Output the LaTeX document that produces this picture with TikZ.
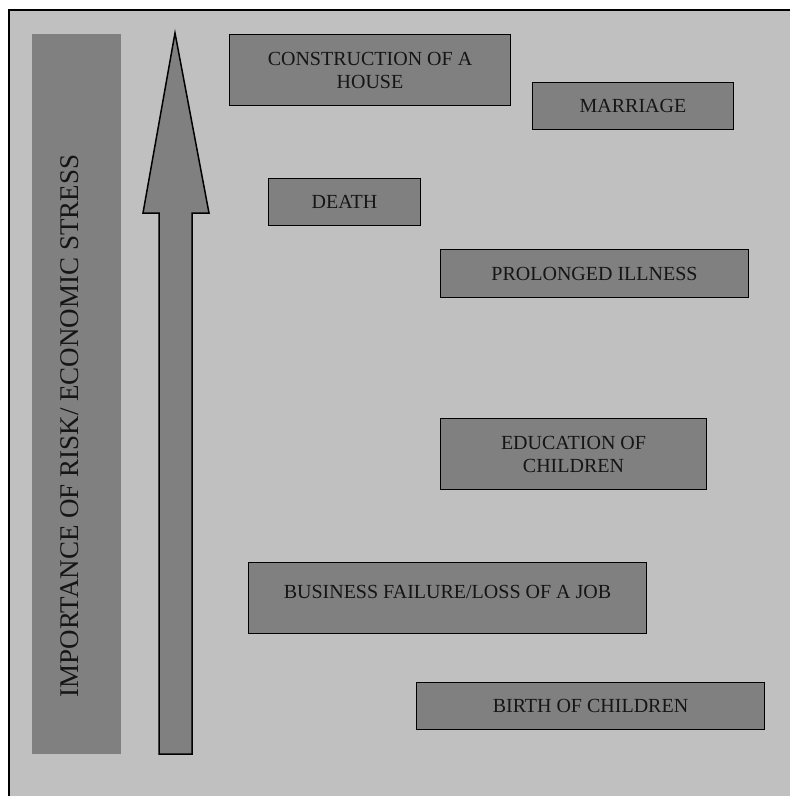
\documentclass[tikz,border=0pt]{standalone}
\usepackage{fontspec}
\setmainfont{Liberation Serif}
\usepackage{xcolor}
\definecolor{bggray}{HTML}{C0C0C0}
\definecolor{boxgray}{HTML}{808080}
\definecolor{inkgray}{HTML}{151515}

\tikzset{
  riskbox/.style={draw=black, fill=boxgray, line width=1.8pt, inner sep=0pt,
    align=center, text=inkgray, font=\fontsize{20}{23}\selectfont}
}

\begin{document}
\begin{tikzpicture}[x=1pt, y=-1pt]
  \useasboundingbox (0,0) rectangle (790,796);
  \clip (0,0) rectangle (790,796);

  % Draw the frame with the grey background
  \draw[fill=bggray, line width=2pt] (9,10) rectangle (805,810);

  % Fill in the side bar and its label
  \node[fill=boxgray, inner sep=0pt, minimum width=89pt, minimum height=720pt] (stressbar) at (76.5,394) {};
  \node[rotate=90, text=inkgray, font=\fontsize{27}{30}\selectfont] (stresslabel) at (70,426) {IMPORTANCE OF RISK/ ECONOMIC STRESS};

  % Draw the big arrow
  \draw[fill=boxgray, line width=1.5pt, line join=miter]
    (159,754) -- (159,213) -- (143,213) -- (175,33) -- (209,213) -- (192,213) -- (192,754) -- cycle;

  % Place the risk boxes
  \node[riskbox, minimum width=281pt, minimum height=71pt] (house) at (370,70) {CONSTRUCTION OF A\\HOUSE};
  \node[riskbox, minimum width=201pt, minimum height=47pt] (marriage) at (633,106) {MARRIAGE};
  \node[riskbox, minimum width=152pt, minimum height=47pt] (death) at (344.5,202) {DEATH};
  \node[riskbox, minimum width=308pt, minimum height=48pt] (illness) at (594.5,273.5) {PROLONGED ILLNESS};
  \node[riskbox, minimum width=266pt, minimum height=71pt] (education) at (573.5,454) {EDUCATION OF\\CHILDREN};
  \node[riskbox, minimum width=398pt, minimum height=71pt, text depth=13pt] (business) at (447.5,598) {BUSINESS FAILURE/LOSS OF A JOB};
  \node[riskbox, minimum width=348pt, minimum height=47pt] (birth) at (590.5,706) {BIRTH OF CHILDREN};
\end{tikzpicture}
\end{document}
